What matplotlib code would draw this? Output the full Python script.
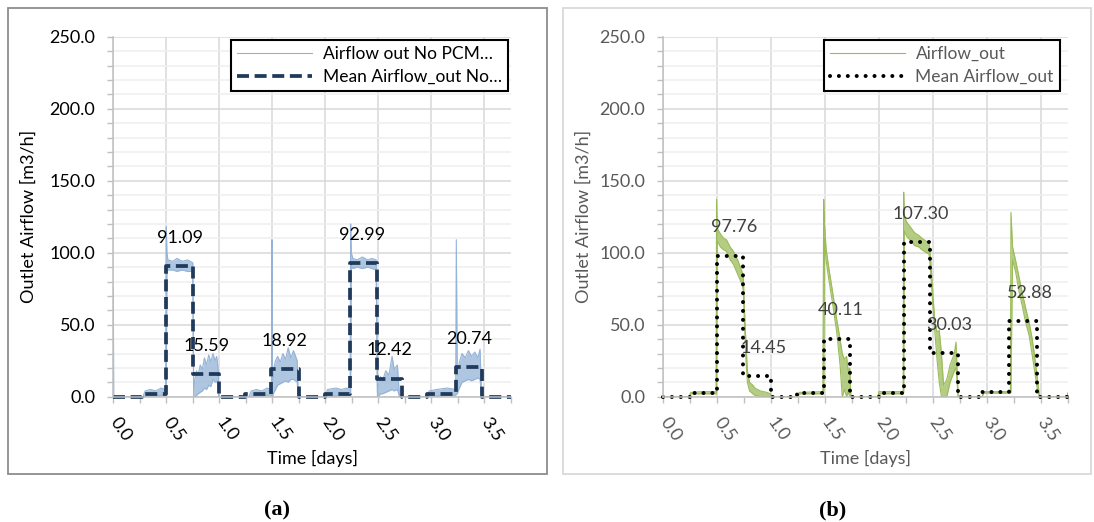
import numpy as np
import matplotlib.pyplot as plt
from matplotlib.patches import Rectangle
from matplotlib.ticker import MultipleLocator, FormatStrFormatter

plt.rcParams['font.family'] = ['Lato', 'DejaVu Sans']

# ---------------------------------------------------------------
# (a) No PCM : measured outlet airflow (lower / upper envelope of noise)
# ---------------------------------------------------------------
t_a = [0.000, 0.004, 0.280, 0.300, 0.350, 0.400, 0.450, 0.495,
       0.500, 0.506, 0.515, 0.560, 0.600, 0.650, 0.700, 0.750,
       0.758, 0.770, 0.785, 0.800, 0.820, 0.840, 0.860, 0.880, 0.900,
       0.920, 0.940, 0.960, 0.975, 0.988, 0.996,
       1.280, 1.300, 1.350, 1.400, 1.450, 1.492,
       1.497, 1.502, 1.515, 1.530, 1.550, 1.575, 1.600, 1.625, 1.650,
       1.675, 1.700, 1.720, 1.735, 1.745,
       2.000, 2.020, 2.100, 2.150, 2.200, 2.234,
       2.239, 2.245, 2.260, 2.300, 2.350, 2.400, 2.440, 2.480,
       2.492, 2.500, 2.520, 2.540, 2.570, 2.600, 2.630, 2.650, 2.680, 2.700,
       2.960, 2.980, 3.050, 3.150, 3.230,
       3.236, 3.245, 3.265, 3.290, 3.320, 3.350, 3.380, 3.410, 3.440,
       3.460, 3.475, 3.750]
lo_a = [0, 0, 0, 0, 0.5, 0.5, 1, 1,
        2, 92, 88, 88, 87, 88, 87, 87,
        0, 0, 1, 2, 3, 4, 6, 5, 8,
        7, 12, 10, 11, 8, 0,
        0, 0, 0.5, 0.5, 1, 1,
        0, 0, 3, 5, 8, 9, 10, 11, 10,
        12, 12, 11, 10, 0,
        0, 0.5, 0.5, 1, 1, 1,
        2, 92, 89, 90, 89, 90, 89, 88,
        0, 0, 2, 2, 3, 4, 5, 4, 5, 0,
        0, 0.5, 0.5, 1, 1,
        2, 2, 6, 10, 11, 12, 11, 12, 13,
        12, 0, 0]
hi_a = [76, 0, 0, 4, 5, 4, 6, 5,
        118, 100, 95, 94, 96, 94, 95, 93,
        4, 12, 18, 15, 22, 19, 27, 22, 29,
        24, 30, 25, 28, 20, 0,
        0, 4, 5, 4, 6, 5,
        109, 3, 20, 25, 28, 24, 30, 26, 34,
        27, 32, 28, 25, 0,
        0, 5, 6, 5, 6, 5,
        120, 100, 96, 95, 97, 95, 96, 95,
        3, 8, 14, 11, 18, 15, 28, 19, 22, 0,
        0, 4, 5, 6, 5,
        109, 15, 24, 30, 27, 32, 28, 31, 27,
        33, 0, 0]

# mean per period (step edges in days)
edges_a = [0, 0.27, 0.50, 0.755, 1.0, 1.24, 1.49, 1.75, 2.0, 2.235,
           2.49, 2.72, 2.96, 3.23, 3.48, 3.75]
mean_a = [0, 2.0, 91.09, 15.59, 0, 2.0, 18.92, 0, 2.0, 92.99,
          12.42, 0, 2.0, 20.74, 0]

# data labels (x, y position in data units)
lab_a = ["91.09", "15.59", "18.92", "92.99", "12.42", "20.74"]
lab_a_x = [0.63, 0.88, 1.615, 2.345, 2.605, 3.36]
lab_a_y = [110.5, 35.0, 38.7, 112.2, 32.3, 40.3]

# ---------------------------------------------------------------
# (b) with PCM
# ---------------------------------------------------------------
t_b = [0.000, 0.240, 0.255, 0.350, 0.490,
       0.494, 0.500, 0.530, 0.560, 0.586, 0.620, 0.650, 0.690, 0.725,
       0.742, 0.752, 0.765, 0.780,
       0.800, 0.830, 0.850, 0.900, 0.960, 0.995, 1.000,
       1.250, 1.260, 1.480,
       1.488, 1.495, 1.510, 1.530, 1.570, 1.610, 1.640, 1.660, 1.680,
       1.700, 1.715, 1.730, 1.740,
       1.990, 2.000, 2.225,
       2.230, 2.236, 2.260, 2.300, 2.330, 2.370, 2.400, 2.440, 2.465,
       2.480, 2.500, 2.520,
       2.540, 2.560, 2.580, 2.600, 2.630, 2.660, 2.700, 2.715, 2.735,
       2.960, 2.970, 3.220,
       3.225, 3.240, 3.270, 3.300, 3.330, 3.360, 3.395, 3.420, 3.440,
       3.470, 3.490,
       3.745, 3.757]
lo_b = [0, 0, 2, 2, 2,
        3, 108, 104, 102, 101, 95, 92, 85, 79,
        74, 52, 28, 10,
        4, 2, 1, 0, 0, 0, 0,
        0, 2, 2,
        3, 110, 95, 84, 65, 44, 22, 0, 5,
        0, 3, 0, 0,
        0, 2, 2,
        3, 115, 111, 108, 105, 104, 102, 100, 99,
        87, 64, 44,
        25, 10, 0, 0, 0, 10, 18, 20, 0,
        0, 2.5, 2.5,
        3, 95, 86, 73, 63, 52, 42, 30, 20,
        5, 0,
        0, 3]
hi_b = [0, 0, 3, 3.5, 3.5,
        137, 117, 113, 110, 109, 104, 101, 95, 88,
        84, 62, 40, 18,
        10, 8, 6, 4, 3, 2, 0,
        0, 3, 3.5,
        137, 120, 103, 92, 73, 53, 40, 30, 26,
        28, 18, 20, 0,
        0, 3.5, 3.5,
        142, 125, 121, 117, 114, 112, 110, 108, 107,
        95, 72, 51,
        45, 46, 30, 8, 12, 22, 30, 38, 0,
        0, 3.5, 3.5,
        128, 104, 94, 83, 72, 62, 51, 41, 31,
        13, 0,
        0, 3]

edges_b = [0, 0.25, 0.494, 0.74, 0.995, 1.24, 1.488, 1.735, 2.0, 2.23,
           2.475, 2.73, 2.96, 3.21, 3.47, 3.745, 3.757]
mean_b = [0, 2.8, 97.76, 14.45, 0, 2.6, 40.11, 0, 2.8, 107.30,
          30.03, 0, 3.0, 52.88, 0, 3.0]

lab_b = ["97.76", "14.45", "40.11", "107.30", "30.03", "52.88"]
lab_b_x = [0.658, 0.93, 1.647, 2.386, 2.65, 3.398]
lab_b_y = [117.5, 34.1, 59.9, 127.2, 49.5, 72.1]

W, H = 1094, 522
FS = 13
fig = plt.figure(figsize=(W / 100, H / 100), dpi=100)


def px_axes(x0, x1, y0, y1):
    return fig.add_axes([x0 / W, 1 - y1 / H, (x1 - x0) / W, (y1 - y0) / H])


def frame(x0, y0, x1, y1, color):
    fig.add_artist(Rectangle((x0 / W, 1 - y1 / H), (x1 - x0) / W, (y1 - y0) / H,
                             transform=fig.transFigure, fill=False,
                             edgecolor=color, linewidth=1.3))


def style_axes(ax, xmax, txt, ylab_x):
    ax.set_xlim(0, xmax)
    ax.set_ylim(0, 250)
    ax.xaxis.set_major_locator(MultipleLocator(0.5))
    ax.xaxis.set_minor_locator(MultipleLocator(0.25))
    ax.yaxis.set_major_locator(MultipleLocator(50))
    ax.yaxis.set_minor_locator(MultipleLocator(10))
    ax.xaxis.set_major_formatter(FormatStrFormatter('%.1f'))
    ax.yaxis.set_major_formatter(FormatStrFormatter('%.1f'))
    ax.grid(True, which='major', color='#d9d9d9', linewidth=1.1)
    ax.grid(True, which='minor', axis='y', color='#efefef', linewidth=1.1)
    ax.set_axisbelow(True)
    for s in ['top', 'right']:
        ax.spines[s].set_visible(False)
    for s in ['left', 'bottom']:
        ax.spines[s].set_color('#bfbfbf')
        ax.spines[s].set_linewidth(1.1)
    ax.tick_params(which='both', color='#bfbfbf', width=1.0, length=4)
    ax.tick_params(axis='y', labelsize=FS, labelcolor=txt, pad=9)
    ax.tick_params(axis='x', labelsize=FS, labelcolor=txt, pad=12)
    for lbl in ax.get_xticklabels():
        lbl.set_rotation(-55)
        lbl.set_ha('left')
        lbl.set_va('center')
        lbl.set_rotation_mode('anchor')
    ax.set_xlabel('Time [days]', fontsize=FS, color=txt)
    ax.set_ylabel('Outlet Airflow [m3/h]', fontsize=FS, color=txt)
    ax.xaxis.set_label_coords(0.5, -0.148)
    ax.yaxis.set_label_coords(ylab_x, 0.5)


def add_legend(ax, txt, anchor):
    h, l = ax.get_legend_handles_labels()
    leg = ax.legend(h, l, loc='upper right', bbox_to_anchor=anchor,
                    fontsize=12.5, frameon=True, fancybox=False, framealpha=1,
                    edgecolor='black', handlelength=4.3, handletextpad=0.6,
                    borderpad=0.35, labelspacing=0.38, borderaxespad=0)
    leg.get_frame().set_linewidth(1.5)
    for t in leg.get_texts():
        t.set_color(txt)


# ---------------- panel (a) ----------------
frame(8, 8, 547, 474, '#8c8c8c')
ax1 = px_axes(113.3, 510.8, 36.7, 396.7)
blue = '#95b3d7'
ax1.fill_between(t_a, lo_a, hi_a, color=blue, alpha=0.75, linewidth=0)
ax1.plot(t_a, hi_a, color=blue, linewidth=0.8, label='Airflow out No PCM…')
ax1.plot(t_a, lo_a, color=blue, linewidth=0.8)
ax1.plot(edges_a, mean_a + [mean_a[-1]], drawstyle='steps-post', color='#203a5c',
         linewidth=2.7, dashes=(3.2, 1.5), clip_on=False,
         label='Mean Airflow_out No…')
for s, x, y in zip(lab_a, lab_a_x, lab_a_y):
    ax1.text(x, y, s, fontsize=FS, color='black', ha='center', va='center')
style_axes(ax1, 3.75, 'black', -0.192)
add_legend(ax1, 'black', (0.992, 0.99))

# ---------------- panel (b) ----------------
frame(563, 8, 1091, 474, '#d9d9d9')
ax2 = px_axes(663.3, 1068.3, 36.7, 396.7)
green = '#9bbb59'
ax2.fill_between(t_b, lo_b, hi_b, color=green, alpha=0.75, linewidth=0)
ax2.plot(t_b, hi_b, color=green, linewidth=0.8, label='Airflow_out')
ax2.plot(t_b, lo_b, color=green, linewidth=0.8)
ax2.plot(edges_b, mean_b + [mean_b[-1]], drawstyle='steps-post', color='black',
         linewidth=2.9, linestyle=(0, (0.01, 2.2)), dash_capstyle='round',
         clip_on=False, label='Mean Airflow_out')
for s, x, y in zip(lab_b, lab_b_x, lab_b_y):
    ax2.text(x, y, s, fontsize=FS, color='#404040', ha='center', va='center')
style_axes(ax2, 3.757, '#595959', -0.176)
add_legend(ax2, '#595959', (0.979, 0.991))

fig.text(277 / W, 1 - 510 / H, '(a)', ha='center', va='center', fontsize=16,
         fontweight='bold', family='Liberation Serif')
fig.text(833 / W, 1 - 510 / H, '(b)', ha='center', va='center', fontsize=16,
         fontweight='bold', family='Liberation Serif')

fig.savefig('out.png', dpi=100)
